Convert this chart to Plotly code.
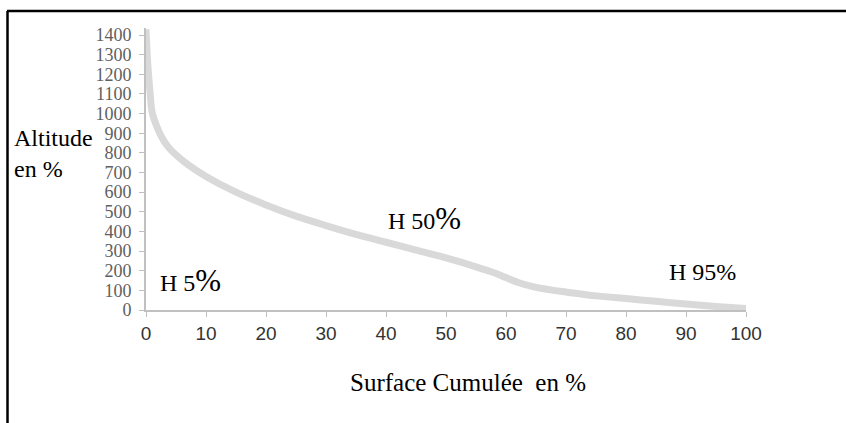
import plotly.graph_objects as go

surface = [0, 0.3, 0.7, 1, 2, 3, 4, 5, 7, 10, 15, 20, 25, 30, 35, 40, 45, 50, 55, 58, 60, 62, 65, 68, 70, 75, 80, 85, 90, 95, 100]
altitude = [1430, 1250, 1100, 1010, 920, 860, 820, 790, 740, 680, 600, 535, 478, 430, 385, 345, 305, 265, 220, 190, 165, 140, 115, 100, 92, 72, 58, 44, 30, 18, 8]

x_ticks = [0, 10, 20, 30, 40, 50, 60, 70, 80, 90, 100]
y_ticks = [0, 100, 200, 300, 400, 500, 600, 700, 800, 900, 1000, 1100, 1200, 1300, 1400]

W, H = 846, 423
ML, MR, MT, MB = 146, 100, 28, 113
PW, PH = W - ML - MR, H - MT - MB

def px(x):
    return (x - ML) / PW

def py(y):
    return (H - MB - y) / PH

fig = go.Figure()
fig.add_trace(go.Scatter(
    x=surface, y=altitude, mode="lines",
    line=dict(color="#d9d9d9", width=7, shape="spline", smoothing=0.8),
    hoverinfo="skip", showlegend=False,
))

serif = "Liberation Serif, Times New Roman, serif"

fig.update_layout(
    width=W, height=H,
    margin=dict(l=ML, r=MR, t=MT, b=MB),
    paper_bgcolor="white", plot_bgcolor="white",
    showlegend=False,
    xaxis=dict(
        range=[0, 100], tickvals=x_ticks, ticktext=[str(v) for v in x_ticks],
        showgrid=False, zeroline=False, showline=True, linecolor="#c0c0c0", linewidth=2,
        ticks="outside", ticklen=5, tickcolor="#c0c0c0", tickwidth=1,
        tickfont=dict(family="Liberation Sans, Arial, sans-serif", size=19, color="#333333"),
    ),
    yaxis=dict(
        range=[0, 1436], tickvals=y_ticks, ticktext=[str(v) for v in y_ticks],
        showgrid=False, zeroline=False, showline=True, linecolor="#c0c0c0", linewidth=2,
        ticks="outside", ticklen=5, tickcolor="#c0c0c0", tickwidth=1,
        ticklabelstandoff=4,
        tickfont=dict(family=serif, size=18, color="#606060"),
    ),
    shapes=[
        dict(type="line", xref="paper", yref="paper", x0=px(7), x1=px(846), y0=py(11), y1=py(11),
             line=dict(color="black", width=2.5)),
        dict(type="line", xref="paper", yref="paper", x0=px(7.5), x1=px(7.5), y0=py(11), y1=py(423),
             line=dict(color="black", width=2.5)),
    ],
    annotations=[
        dict(text="Altitude<br>en %", xref="paper", yref="paper", x=px(12), y=py(153),
             xanchor="left", yanchor="middle", align="left", showarrow=False,
             font=dict(family=serif, size=24, color="black")),
        dict(text="Surface Cumulée  en %", xref="paper", yref="paper", x=px(468), y=py(383),
             xanchor="center", yanchor="middle", showarrow=False,
             font=dict(family=serif, size=25, color="black")),
        dict(text="H 5<span style='font-size:31px'>%</span>", xref="paper", yref="paper",
             x=px(158), y=py(280), xanchor="left", yanchor="middle", showarrow=False,
             font=dict(family=serif, size=24, color="black")),
        dict(text="H 50<span style='font-size:31px'>%</span>", xref="paper", yref="paper",
             x=px(386), y=py(218), xanchor="left", yanchor="middle", showarrow=False,
             font=dict(family=serif, size=24, color="black")),
        dict(text="H 95%", xref="paper", yref="paper",
             x=px(667), y=py(272), xanchor="left", yanchor="middle", showarrow=False,
             font=dict(family=serif, size=24, color="black")),
    ],
)

fig.write_html("out.html", config={"displayModeBar": False},
               post_script="document.body.style.margin='0';")
